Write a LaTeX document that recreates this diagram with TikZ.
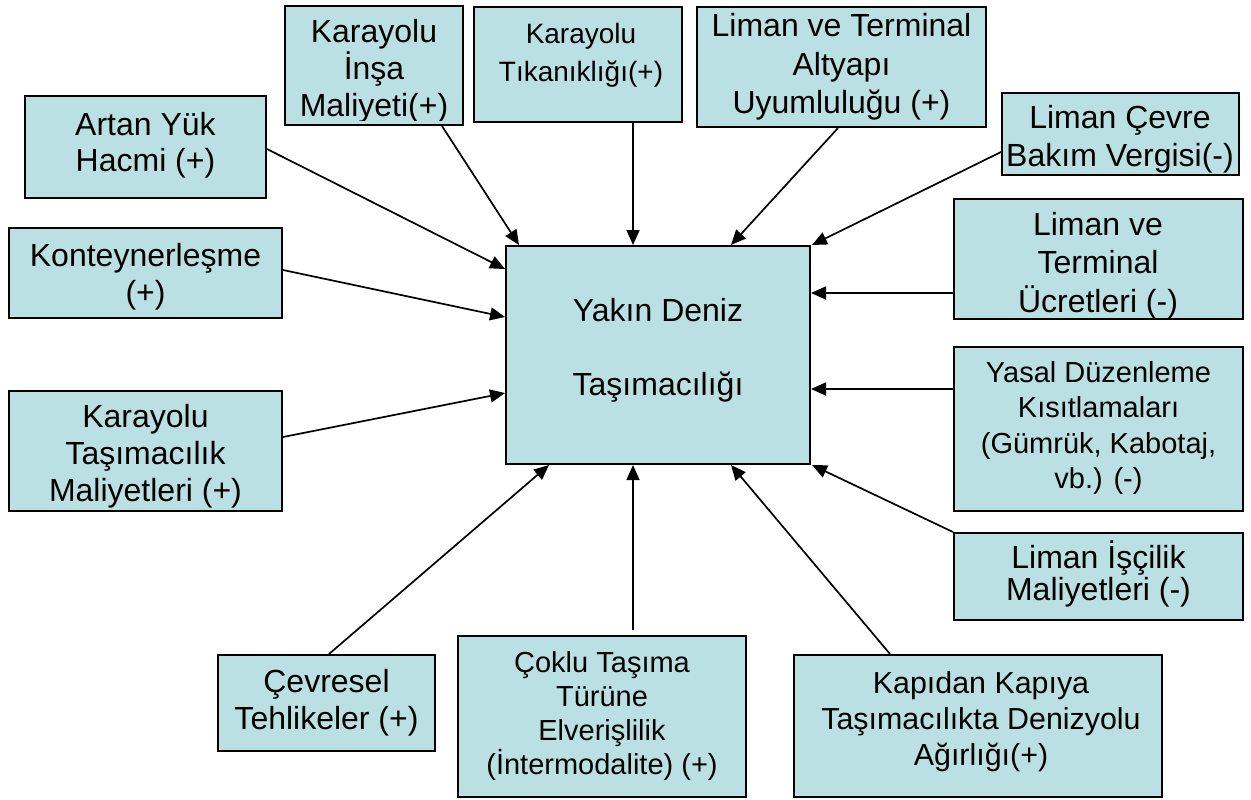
\documentclass[tikz,border=0pt]{standalone}
\usepackage{fontspec}
\setmainfont{Liberation Sans}
\usetikzlibrary{arrows.meta,calc,fit}
\definecolor{boxfill}{RGB}{187,224,227}
\newcommand{\tstrut}{\rule{0pt}{15pt}}
\begin{document}
\begin{tikzpicture}[x=0.5pt,y=-0.5pt,
  box/.style={draw=black, line width=1pt, fill=boxfill, inner sep=0pt, rectangle},
  conn/.style={line width=0.85pt, -{Triangle[length=7.5pt,width=6.5pt]}},
  tx/.style 2 args={font=\fontsize{#1pt}{#2pt}\selectfont, align=center, inner sep=0pt, anchor=north}
]
\useasboundingbox (0,0) rectangle (1251,799);

% boxes
\node[box, fit={(506,246) (810,464)}] (main) {};
\node[box, fit={(25,96) (266,198)}] (artan) {};
\node[box, fit={(285,6) (463,125)}] (insa) {};
\node[box, fit={(474,7) (682,122)}] (tikan) {};
\node[box, fit={(697,7) (986,127)}] (altyapi) {};
\node[box, fit={(1002,93) (1239,175)}] (cevre) {};
\node[box, fit={(954,199) (1243,319)}] (ucret) {};
\node[box, fit={(954,347) (1243,511)}] (yasal) {};
\node[box, fit={(954,533) (1243,620)}] (iscilik) {};
\node[box, fit={(794,655) (1162,797)}] (kapi) {};
\node[box, fit={(458,636) (746,797)}] (coklu) {};
\node[box, fit={(218,655) (435,751)}] (cevresel) {};
\node[box, fit={(9,391) (282,511)}] (karatas) {};
\node[box, fit={(9,228) (282,318)}] (konteyner) {};

% texts (node top = first baseline - 30)
\node[tx={16}{37}] (mainT) at (658,290.7) {\tstrut Yakın Deniz\\Taşımacılığı};
\node[tx={16}{18}] (artanT) at (145.5,105) {\tstrut Artan Yük\\Hacmi (+)};
\begin{scope}
  \clip (insa.north west) rectangle ($(insa.south east)+(0,-6)$);
  \node[tx={16}{18.5}] (insaT) at (374,12) {\tstrut Karayolu\\İnşa\\Maliyeti(+)};
\end{scope}
\node[tx={14}{19}] (tikanT) at (581,13) {\tstrut Karayolu\\Tıkanıklığı(+)};
\node[tx={16}{19.25}] (altyapiT) at (841.5,6.5) {\tstrut Liman ve Terminal\\Altyapı\\Uyumluluğu (+)};
\node[tx={16}{19.25}] (cevreT) at (1120,98) {\tstrut Liman Çevre\\Bakım Vergisi(-)};
\node[tx={16}{19.25}] (ucretT) at (1098,205) {\tstrut Liman ve\\Terminal\\Ücretleri (-)};
\node[tx={14.5}{17.75}] (yasalT) at (1098.5,351.7) {\tstrut Yasal Düzenleme\\Kısıtlamaları\\(Gümrük, Kabotaj,\\vb.) (-)};
\begin{scope}
  \clip (iscilik.north west) rectangle ($(iscilik.south east)+(0,-5)$);
  \node[tx={16}{16.25}] (iscilikT) at (1098.5,537.7) {\tstrut Liman İşçilik\\Maliyetleri (-)};
\end{scope}
\node[tx={15.2}{17.9}] (kapiT) at (981,663.3) {\tstrut Kapıdan Kapıya\\Taşımacılıkta Denizyolu\\Ağırlığı(+)};
\node[tx={14.5}{17}] (cokluT) at (602,641.7) {\tstrut Çoklu Taşıma\\Türüne\\Elverişlilik\\(İntermodalite) (+)};
\node[tx={16}{18.35}] (cevreselT) at (326.5,662.3) {\tstrut Çevresel\\Tehlikeler (+)};
\begin{scope}
  \clip (karatas.north west) rectangle ($(karatas.south east)+(0,-5)$);
  \node[tx={16}{18.35}] (karatasT) at (145.5,397.3) {\tstrut Karayolu\\Taşımacılık\\Maliyetleri (+)};
\end{scope}
\node[tx={16}{18.35}] (konteynerT) at (145.5,236) {\tstrut Konteynerleşme\\(+)};

% connectors
\draw[conn] ($(artan.north east)+(0,54)$) -- ($(main.north west)+(0,24)$);
\draw[conn] ($(insa.south west)+(158,0)$) -- ($(main.north west)+(14,0)$);
\draw[conn] ($(tikan.south west)+(160,0)$) -- ($(main.north west)+(128,0)$);
\draw[conn] ($(altyapi.south west)+(142,0)$) -- ($(main.north west)+(226,0)$);
\draw[conn] ($(cevre.north west)+(0,60)$) -- ($(main.north east)+(1,0)$);
\draw[conn] ($(ucret.north west)+(0,95)$) -- ($(main.north east)+(0,48)$);
\draw[conn] ($(yasal.north west)+(0,43)$) -- ($(main.north east)+(0,144)$);
\draw[conn] (iscilik.north west) -- ($(main.south east)+(1,0)$);
\draw[conn] ($(kapi.north west)+(97,0)$) -- ($(main.south west)+(226,0)$);
\draw[conn] ($(coklu.north west)+(176,-5)$) -- ($(main.south west)+(128,0)$);
\draw[conn] ($(cevresel.north west)+(112,0)$) -- ($(main.south west)+(44,0)$);
\draw[conn] ($(karatas.north east)+(0,47)$) -- ($(main.south west)+(0,-72)$);
\draw[conn] ($(konteyner.north east)+(0,43)$) -- ($(main.north west)+(0,72)$);
\end{tikzpicture}
\end{document}
